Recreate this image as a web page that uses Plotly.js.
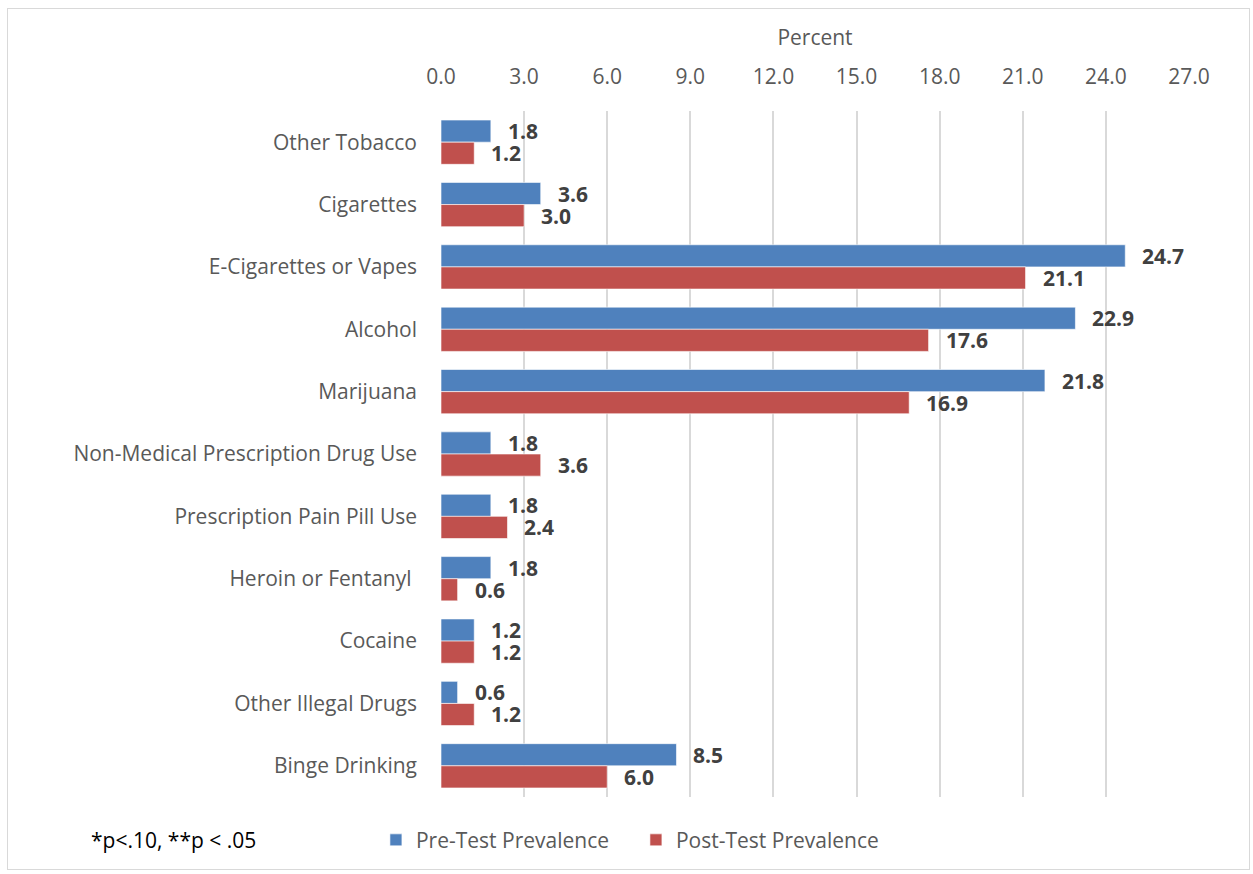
<!DOCTYPE html>
<html>
<head>
<meta charset="utf-8">
<script src="https://cdn.plot.ly/plotly-3.0.1.min.js"></script>
<style>
html,body{margin:0;padding:0;background:#fff;}
#chart{width:1253px;height:874px;}
#frame{position:absolute;left:7px;top:8px;width:1243px;height:862px;border:1px solid #d9d9d9;box-sizing:border-box;pointer-events:none;}
</style>
</head>
<body>
<div id="chart"></div>
<div id="frame"></div>
<script>
const categories = ["Other Tobacco","Cigarettes","E-Cigarettes or Vapes","Alcohol","Marijuana","Non-Medical Prescription Drug Use","Prescription Pain Pill Use","Heroin or Fentanyl\u00a0","Cocaine","Other Illegal Drugs","Binge Drinking"];
const preTest = [1.8,3.6,24.7,22.9,21.8,1.8,1.8,1.8,1.2,0.6,8.5];
const postTest = [1.2,3.0,21.1,17.6,16.9,3.6,2.4,0.6,1.2,1.2,6.0];
const seriesNames = ["Pre-Test Prevalence","Post-Test Prevalence"];
const xTicks = [0,3,6,9,12,15,18,21,24,27];

const FS = 21;
const labelFont = {family:"Open Sans, sans-serif", size:FS, color:"#404040", weight:"bold"};
function mk(vals, name, color){
  return {
    type:"bar", orientation:"h", x:vals, y:categories, name:name,
    marker:{color:color, line:{color:"rgba(255,255,255,0.6)", width:1}},
    text:vals.map(v=>v.toFixed(1)), textposition:"none",
    hoverinfo:"x+y"
  };
}
const data = [mk(preTest, seriesNames[0], "#4f81bd"), mk(postTest, seriesNames[1], "#c0504d")];

const annotations = [];
categories.forEach((c,i)=>{
  annotations.push({x:preTest[i], y:i, xref:"x", yref:"y", text:"<b>"+preTest[i].toFixed(1)+"</b>", showarrow:false,
    xanchor:"left", yanchor:"middle", xshift:15, yshift:11, font:labelFont});
  annotations.push({x:postTest[i], y:i, xref:"x", yref:"y", text:"<b>"+postTest[i].toFixed(1)+"</b>", showarrow:false,
    xanchor:"left", yanchor:"middle", xshift:15, yshift:-11, font:labelFont});
});
annotations.push({text:"*p<.10, **p < .05", xref:"paper", yref:"paper", x:-0.471, y:-0.063, xanchor:"left", yanchor:"middle",
  showarrow:false, font:{size:FS, color:"#000", family:"Open Sans, sans-serif"}});

const layout = {
  width:1253, height:874,
  margin:{l:441, r:64, t:111, b:77},
  paper_bgcolor:"#fff", plot_bgcolor:"#fff",
  barmode:"group", bargap:0.29, bargroupgap:0,
  font:{family:"Open Sans, sans-serif", color:"#595959"},
  xaxis:{
    side:"top", range:[0,27], tickvals:xTicks, ticktext:xTicks.map(v=>v.toFixed(1)),
    showgrid:true, gridcolor:"#d9d9d9", gridwidth:2, zeroline:false, showline:false,
    tickfont:{size:FS, color:"#595959"}, ticks:"", automargin:false, ticklabelstandoff:22,
    title:{text:"Percent", font:{size:FS, color:"#595959"}, standoff:10}
  },
  yaxis:{
    autorange:"reversed", tickfont:{size:FS, color:"#595959"}, ticks:"", ticklabelstandoff:23,
    showline:false, showgrid:false, automargin:false
  },
  legend:{orientation:"h", x:-0.087, xanchor:"left", y:-0.063, yanchor:"middle",
    font:{size:FS, color:"#595959"}, traceorder:"normal", itemwidth:30, entrywidth:215},
  annotations:annotations,
  showlegend:true
};
Plotly.newPlot("chart", data, layout, {displayModeBar:false, staticPlot:true});
</script>
</body>
</html>
